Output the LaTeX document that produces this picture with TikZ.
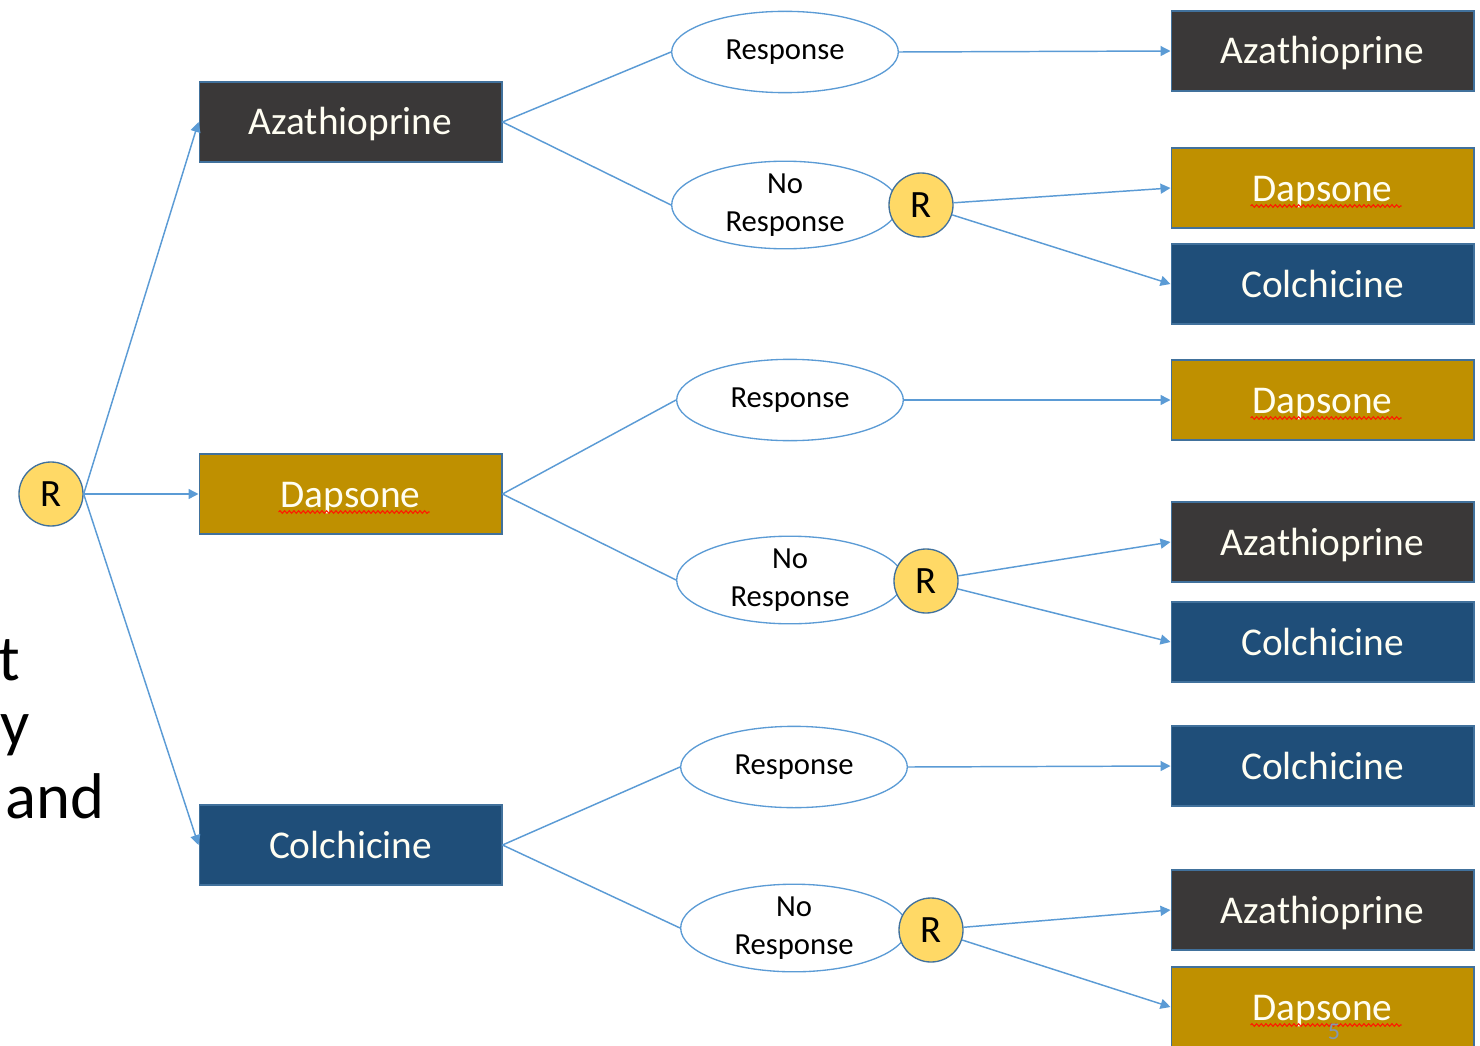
\documentclass[tikz,border=0pt]{standalone}
\usepackage{fontspec}
\setmainfont{Carlito}
\usetikzlibrary{arrows.meta,shapes.geometric,decorations.pathmorphing}

\definecolor{azacol}{HTML}{3A3838}
\definecolor{dapcol}{HTML}{BF9000}
\definecolor{colcol}{HTML}{1F4E79}
\definecolor{boxedge}{HTML}{41719C}
\definecolor{linkcol}{HTML}{5B9BD5}
\definecolor{rfill}{HTML}{FFD966}
\definecolor{numcol}{HTML}{8497B0}

\begin{document}
\begin{tikzpicture}[x=0.75pt,y=-0.75pt,
  drug/.style={draw=boxedge, line width=1pt, minimum width=227pt, minimum height=60pt,
    inner sep=0pt, text=white!95!yellow, font=\fontsize{29.5}{34}\selectfont,
    text height=24pt, text depth=4.5pt},
  aza/.style={drug, fill=azacol},
  dap/.style={drug, fill=dapcol},
  col/.style={drug, fill=colcol},
  outcome/.style={ellipse, draw=linkcol, line width=1pt, fill=white, minimum width=170pt,
    minimum height=61pt, inner sep=0pt, align=center, font=\fontsize{23}{28}\selectfont},
  rand/.style={circle, draw=boxedge, line width=1pt, fill=rfill, minimum size=48pt,
    inner sep=0pt, font=\fontsize{29}{34}\selectfont},
  link/.style={draw=linkcol, line width=1.1pt},
  arr/.style={link, -{Triangle[length=7.5pt,width=7.5pt]}},
  squig/.style={draw=red!80!orange, line width=0.8pt, decorate,
    decoration={snake, amplitude=1pt, segment length=3.5pt}},
  cut/.style={inner sep=0pt, font=\fontsize{48.5}{52}\selectfont}
]
\useasboundingbox (0,0) rectangle (1480,1045);
\clip (0,0) rectangle (1480,1045);

% fragments of the slide text on the left
\node[cut, anchor=base west] (ft) at (-2,680) {t};
\node[cut, anchor=base west] (fy) at (0,745) {y};
\node[cut, anchor=base west] (fand) at (5,818) {and};

% first choice
\node[rand] (r0) at (51,494) {R};
\node[aza] (a1) at (350.5,122) {Azathioprine};
\node[dap] (d1) at (350.5,494) {Dapsone};
\node[col] (c1) at (350.5,845) {Colchicine};

% outcomes
\node[outcome] (ra) at (785,52) {Response};
\node[outcome] (na) at (785,205) {No\\Response};
\node[outcome] (rd) at (790,400) {Response};
\node[outcome] (nd) at (790,580) {No\\Response};
\node[outcome] (rc) at (794,767) {Response};
\node[outcome] (nc) at (794,928) {No\\Response};

% second randomisations
\node[rand] (ra2) at (921,205) {R};
\node[rand] (rd2) at (926,581) {R};
\node[rand] (rc2) at (931,930) {R};

% second choice
\node[aza] (t1) at (1322.5,51) {Azathioprine};
\node[dap] (t2) at (1322.5,188) {Dapsone};
\node[col] (t3) at (1322.5,284) {Colchicine};
\node[dap] (t4) at (1322.5,400) {Dapsone};
\node[aza] (t5) at (1322.5,542) {Azathioprine};
\node[col] (t6) at (1322.5,642) {Colchicine};
\node[col] (t7) at (1322.5,766) {Colchicine};
\node[aza] (t8) at (1322.5,910) {Azathioprine};
\node[dap] (t9) at (1322.5,1007) {Dapsone};

% spelling marks under Dapsone
\foreach \n in {d1,t2,t4,t9}
  \draw[squig] ([shift={(-72,18)}]\n.center) -- ([shift={(79,18)}]\n.center);

% slide number
\node[inner sep=0pt, anchor=north, text=numcol, font=\fontsize{18}{21}\selectfont] (num) at (1334,1024) {5};

% connectors
\draw[arr] (r0.east) -- (a1.west);
\draw[arr] (r0.east) -- (d1.west);
\draw[arr] (r0.east) -- (c1.west);

\draw[link] (a1.east) -- (ra.west);
\draw[link] (a1.east) -- (na.west);
\draw[link] (d1.east) -- (rd.west);
\draw[link] (d1.east) -- (nd.west);
\draw[link] (c1.east) -- (rc.west);
\draw[link] (c1.east) -- (nc.west);

\draw[arr] (ra.east) -- (t1.west);
\draw[arr] (rd.east) -- (t4.west);
\draw[arr] (rc.east) -- (t7.west);

\draw[arr] (ra2) -- (t2.west);
\draw[arr] (ra2) -- (t3.west);
\draw[arr] (rd2) -- (t5.west);
\draw[arr] (rd2) -- (t6.west);
\draw[arr] (rc2) -- (t8.west);
\draw[arr] (rc2) -- (t9.west);
\end{tikzpicture}
\end{document}
